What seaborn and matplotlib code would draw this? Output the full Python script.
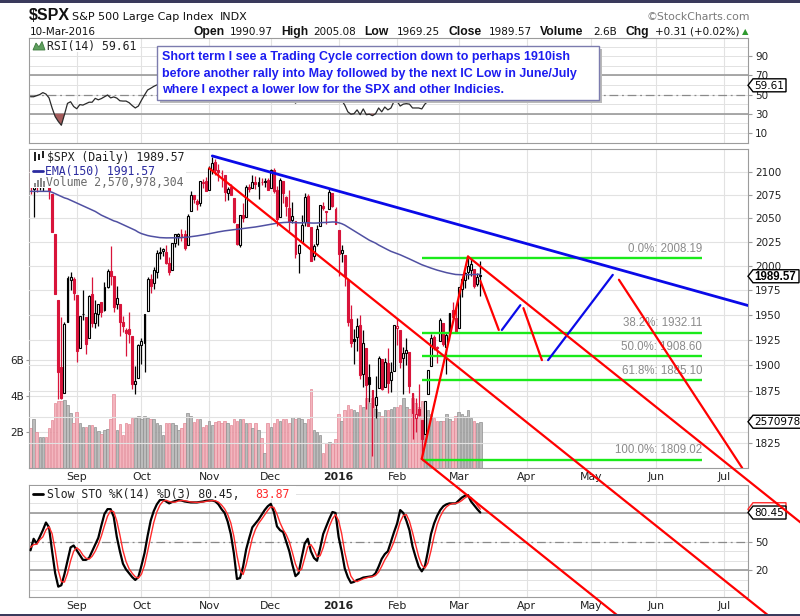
import numpy as np
import pandas as pd
import matplotlib
matplotlib.use("Agg")
import matplotlib.pyplot as plt
import seaborn as sns
from matplotlib.patches import Rectangle, Polygon
from matplotlib.lines import Line2D
from matplotlib.ticker import FixedLocator, FixedFormatter, NullLocator

# ---------------------------------------------------------------- data
HOLIDAYS = ["2015-09-07", "2015-11-26", "2015-12-25", "2016-01-01", "2016-01-18",
            "2016-02-15", "2016-03-25", "2016-05-30", "2016-07-04"]
FIRST_DAY = "2015-08-11"
PRIOR_CLOSE = 2104.18

opens = [
    2102.66, 2081.10, 2086.19, 2083.15, 2089.70, 2101.99, 2095.69, 2076.61, 2034.08, 1965.15, 1898.08, 1872.75, 1942.77, 1986.06, 1986.73,
    1970.09, 1916.52, 1950.79, 1947.76, 1927.30, 1971.45, 1941.59, 1951.45, 1963.06, 1955.10, 1978.02, 1995.33, 1989.66, 1960.84, 1961.39, 1943.24, 1934.81, 1935.93, 1929.18, 1881.90, 1887.14,
    1919.65, 1921.77, 1954.33, 1986.63, 1982.34, 1994.01, 2013.73, 2015.65, 2015.00, 2003.66, 1996.47, 2024.37, 2031.73, 2033.13, 2033.47, 2021.88, 2058.19, 2075.08, 2068.75, 2066.48, 2088.35, 2090.00,
    2080.76, 2102.63, 2110.60, 2101.68, 2098.60, 2096.56, 2077.19, 2083.41, 2072.29, 2044.64, 2022.08, 2053.67, 2051.99, 2083.70, 2082.82, 2089.41, 2084.42, 2089.30, 2088.82, 2090.95,
    2082.93, 2101.71, 2080.71, 2051.24, 2090.42, 2073.39, 2061.17, 2047.93, 2047.27, 2013.37, 2025.55, 2046.50, 2073.76, 2040.81, 2010.27, 2023.15, 2042.20, 2063.52, 2057.77, 2060.54, 2077.34, 2060.59,
    2038.20, 2013.78, 2011.71, 1985.32, 1945.97, 1926.12, 1927.83, 1940.34, 1891.68, 1916.68, 1888.66, 1876.18, 1861.46, 1877.40, 1906.28, 1878.79, 1902.52, 1885.22, 1894.00,
    1936.94, 1935.26, 1907.07, 1911.67, 1913.07, 1873.25, 1848.46, 1857.10, 1847.00, 1833.40, 1871.44, 1898.80, 1927.57, 1916.74, 1924.44, 1942.38, 1917.56, 1931.87, 1954.95, 1947.13,
    1937.09, 1976.60, 1985.60, 1994.01, 1996.11, 1996.88, 1981.44, 1990.97]
highs = [
    2102.66, 2089.06, 2092.93, 2092.45, 2102.87, 2103.47, 2096.17, 2076.61, 2034.08, 1965.15, 1948.04, 1943.09, 1989.60, 1993.48, 1988.87,
    1970.09, 1948.91, 1975.01, 1947.76, 1970.42, 1988.63, 1965.29, 1961.05, 1963.06, 1983.19, 1997.26, 2020.86, 1989.66, 1979.64, 1961.39, 1949.52, 1937.17, 1952.89, 1929.18, 1899.48, 1920.53,
    1927.21, 1951.36, 1989.17, 1991.62, 1999.31, 2016.50, 2020.13, 2018.66, 2022.34, 2009.56, 2024.15, 2033.54, 2034.45, 2039.12, 2037.97, 2055.20, 2079.74, 2075.14, 2070.37, 2090.35, 2092.52, 2094.32,
    2106.20, 2116.48, 2114.59, 2108.78, 2101.91, 2096.56, 2083.67, 2086.94, 2072.29, 2044.64, 2053.22, 2066.69, 2085.31, 2086.74, 2097.06, 2095.61, 2094.12, 2093.00, 2093.29, 2093.81,
    2103.37, 2104.27, 2085.00, 2093.84, 2090.42, 2073.85, 2080.33, 2067.65, 2047.27, 2022.92, 2053.87, 2076.72, 2076.37, 2040.81, 2022.90, 2042.74, 2064.73, 2067.36, 2057.77, 2081.56, 2077.34, 2062.54,
    2038.20, 2021.94, 2011.71, 1985.32, 1960.40, 1935.65, 1947.38, 1950.33, 1934.47, 1916.68, 1901.44, 1876.18, 1889.85, 1908.85, 1906.28, 1906.73, 1916.99, 1902.96, 1940.24,
    1947.20, 1935.26, 1918.01, 1927.35, 1913.07, 1873.25, 1868.25, 1881.60, 1847.00, 1864.78, 1895.77, 1930.68, 1930.00, 1918.78, 1946.70, 1942.38, 1932.08, 1951.83, 1962.96, 1958.27,
    1978.35, 1986.51, 1993.69, 2009.13, 2008.16, 1996.88, 1992.69, 2005.08]
lows = [
    2076.49, 2052.09, 2078.26, 2080.61, 2079.30, 2094.14, 2070.53, 2035.66, 1970.89, 1867.01, 1867.08, 1872.75, 1942.77, 1975.19, 1965.36,
    1903.07, 1916.52, 1944.72, 1911.21, 1927.30, 1937.88, 1937.19, 1939.19, 1948.27, 1954.30, 1977.93, 1980.48, 1953.45, 1955.80, 1929.22, 1932.57, 1908.92, 1921.50, 1876.92, 1871.91, 1887.14,
    1900.70, 1893.70, 1954.33, 1971.99, 1976.44, 1987.53, 2007.61, 2010.55, 2001.78, 1990.73, 1996.47, 2020.46, 2022.31, 2026.61, 2017.22, 2021.88, 2058.19, 2066.53, 2058.84, 2063.11, 2082.63, 2079.34,
    2080.76, 2097.51, 2096.98, 2090.41, 2083.74, 2068.24, 2069.91, 2074.85, 2045.66, 2022.02, 2019.94, 2045.90, 2051.99, 2078.76, 2082.82, 2081.39, 2070.29, 2086.30, 2084.13, 2080.41,
    2082.93, 2077.11, 2042.35, 2051.24, 2066.78, 2052.32, 2036.53, 2045.67, 2008.80, 1993.26, 2025.55, 2042.43, 2041.66, 2005.33, 2005.93, 2020.49, 2042.20, 2058.73, 2044.20, 2060.54, 2061.97, 2043.62,
    1989.68, 2004.17, 1979.05, 1938.83, 1918.46, 1901.10, 1914.35, 1886.41, 1878.93, 1857.83, 1864.60, 1812.29, 1848.98, 1877.40, 1875.97, 1878.79, 1872.70, 1873.65, 1894.00,
    1920.03, 1897.29, 1872.23, 1900.52, 1872.65, 1828.46, 1834.94, 1850.32, 1810.10, 1833.40, 1871.44, 1898.80, 1915.09, 1902.17, 1924.44, 1919.44, 1891.00, 1925.41, 1945.78, 1931.81,
    1937.09, 1968.80, 1977.37, 1986.77, 1989.44, 1977.43, 1979.84, 1969.25]
closes = [
    2084.07, 2086.05, 2083.39, 2091.54, 2102.44, 2096.92, 2079.61, 2035.73, 1970.89, 1893.21, 1867.61, 1940.51, 1987.66, 1988.87, 1972.18,
    1913.85, 1948.86, 1951.13, 1921.22, 1969.41, 1942.04, 1952.29, 1961.05, 1953.03, 1978.09, 1995.31, 1990.20, 1958.03, 1966.97, 1942.74, 1938.76, 1932.24, 1931.34, 1881.77, 1884.09, 1920.03,
    1923.82, 1951.36, 1987.05, 1979.92, 1995.83, 2013.43, 2014.89, 2017.46, 2003.69, 1994.24, 2023.86, 2033.11, 2033.66, 2030.77, 2018.94, 2052.51, 2075.15, 2071.18, 2065.89, 2090.35, 2089.41, 2079.36,
    2104.05, 2109.79, 2102.31, 2099.93, 2099.20, 2078.58, 2081.72, 2075.00, 2045.97, 2023.04, 2053.19, 2050.44, 2083.58, 2081.24, 2089.17, 2086.59, 2089.14, 2088.87, 2090.11, 2080.41,
    2102.63, 2079.51, 2049.62, 2091.69, 2077.07, 2063.59, 2047.62, 2052.23, 2012.37, 2021.94, 2043.41, 2073.07, 2041.89, 2005.55, 2021.15, 2038.97, 2064.29, 2060.99, 2056.50, 2078.36, 2063.36, 2043.94,
    2012.66, 2016.71, 1990.26, 1943.09, 1922.03, 1923.67, 1938.68, 1890.28, 1921.84, 1880.33, 1881.33, 1859.33, 1868.99, 1906.90, 1877.08, 1903.63, 1882.95, 1893.36, 1940.24,
    1939.38, 1903.03, 1912.53, 1915.45, 1880.05, 1853.44, 1852.21, 1851.86, 1829.08, 1864.78, 1895.58, 1926.82, 1917.83, 1917.78, 1945.50, 1921.27, 1929.80, 1951.70, 1948.05, 1932.23,
    1978.35, 1986.45, 1993.40, 1999.99, 2001.76, 1979.26, 1989.26, 1989.57]
volume_b = [
    2.2, 2.7, 2.0, 1.75, 1.7, 1.75, 2.2, 2.65, 3.6, 3.7, 3.7, 3.8, 3.5, 3.05, 2.5,
    3.1, 2.5, 2.3, 2.3, 2.4, 2.4, 2.3, 2.05, 1.9, 2.1, 2.15, 2.7, 4.1, 2.1, 2.45, 1.85, 2.5, 2.45, 2.8, 2.8, 2.9,
    2.7, 2.9, 2.8, 2.7, 2.7, 2.5, 2.4, 1.85, 2.5, 2.5, 2.5, 2.4, 2.1, 2.2, 2.5, 3.05, 2.9, 2.55, 2.7, 2.7, 2.3, 2.4,
    2.6, 2.4, 2.55, 2.6, 2.5, 2.6, 2.5, 2.4, 2.7, 2.6, 2.7, 2.7, 2.5, 2.5, 2.2, 2.5, 2.1, 1.65, 0.85, 2.5,
    2.3, 2.5, 2.75, 2.6, 2.7, 2.75, 2.5, 2.85, 2.7, 2.8, 2.7, 2.5, 2.75, 4.4, 2.1, 2.0, 1.85, 0.85, 1.4, 1.45, 1.35, 1.6,
    3.0, 2.6, 3.2, 3.5, 3.3, 3.2, 3.1, 3.5, 3.4, 3.9, 3.6, 3.9, 3.3, 3.1, 2.9, 3.2, 3.2, 3.3, 3.4,
    3.4, 3.5, 3.9, 3.4, 3.3, 3.9, 3.6, 3.4, 3.7, 3.1, 3.2, 3.0, 2.8, 2.6, 2.6, 2.6, 3.0, 2.7, 2.6, 2.9,
    3.1, 3.0, 2.9, 3.2, 2.8, 2.6, 2.5, 2.57]
ema150 = [
    2079.0, 2079.0, 2079.0, 2079.0, 2079.0, 2079.0, 2079.0, 2078.0, 2076.5, 2075.0, 2073.5, 2072.0, 2071.0, 2069.5, 2068.0,
    2066.5, 2065.0, 2063.5, 2062.0, 2060.5, 2059.0, 2057.5, 2055.5, 2053.5, 2052.0, 2050.5, 2049.0, 2047.5, 2046.5, 2045.0, 2043.5, 2042.0, 2040.5, 2039.0, 2037.5, 2035.5,
    2034.0, 2033.0, 2032.0, 2031.3, 2030.8, 2030.3, 2029.8, 2029.6, 2029.5, 2029.5, 2029.5, 2029.5, 2029.6, 2029.8, 2030.0, 2030.3, 2030.7, 2031.1, 2031.6, 2032.1, 2032.6, 2033.2,
    2033.8, 2034.5, 2035.2, 2035.8, 2036.4, 2036.9, 2037.3, 2037.7, 2038.1, 2038.4, 2038.8, 2039.2, 2039.7, 2040.1, 2040.5, 2041.0, 2041.5, 2042.1, 2042.7, 2043.3,
    2043.9, 2044.4, 2045.0, 2045.4, 2045.7, 2045.9, 2046.0, 2045.8, 2045.5, 2045.4, 2045.4, 2045.6, 2045.5, 2045.2, 2045.1, 2045.2, 2045.5, 2045.7, 2045.8, 2046.1, 2046.3, 2046.2,
    2045.5, 2044.5, 2043.0, 2041.0, 2039.0, 2037.0, 2035.0, 2033.0, 2031.0, 2029.0, 2027.0, 2025.5, 2024.0, 2022.0, 2020.3, 2018.6, 2017.0, 2015.4, 2014.2,
    2013.0, 2011.8, 2010.4, 2009.0, 2007.5, 2006.0, 2004.5, 2003.0, 2001.5, 2000.3, 1999.2, 1998.0, 1996.9, 1995.9, 1995.0, 1994.1, 1993.3, 1992.6, 1992.0, 1991.4,
    1991.2, 1991.1, 1991.1, 1991.2, 1991.3, 1991.3, 1991.4, 1991.57]
rsi14 = [
    47.7, 47.7, 48.8, 50.0, 52.0, 50.5, 46.5, 36.0, 27.0, 22.0, 18.0, 29.0, 40.8, 42.5, 37.5,
    35.2, 39.5, 39.0, 40.5, 42.0, 42.0, 46.0, 44.5, 45.8, 47.7, 49.5, 46.5, 47.5, 46.3, 43.5, 43.2, 43.2, 41.5, 38.5, 36.0, 38.0,
    44.0, 49.5, 54.7, 56.5, 58.5, 60.0, 61.0, 64.0, 64.5, 65.0, 61.0, 58.0, 63.0, 65.0, 65.0, 64.0, 61.0, 66.0, 70.0, 69.0, 67.0, 71.0,
    73, 74, 71, 70, 70, 62, 63, 60, 51, 46, 53, 52, 59, 58, 60, 59, 60, 60, 60, 57,
    62, 55, 47, 58, 54, 51, 47, 48, 41, 44, 49, 55, 48, 42, 46, 50, 55, 54, 53, 57, 54, 49,
    43, 44, 39, 32, 29.5, 30, 34, 29, 35, 29, 29.5, 28, 30, 36, 32, 37, 34, 36, 43,
    43, 38, 40, 40.5, 40, 36, 36, 36, 35, 40, 43, 49, 48, 48, 53, 49, 51, 55, 54.5, 52,
    60, 61, 63, 64, 64.5, 58, 60, 59.61]
sto_k = [
    41, 53, 48, 55, 62, 70, 65, 40, 17, 3, 4.5, 16, 30, 44, 46,
    41, 36, 31, 31, 33, 40, 47, 54, 67, 79, 84, 84, 76, 55, 40, 27, 21, 17, 13, 10, 13,
    25, 38, 56, 72, 82, 89, 93.5, 94, 92, 90, 91.5, 92.5, 93.5, 93, 92, 91.5, 91, 91, 91, 91.5, 92, 92.8,
    93, 93, 92, 89, 84, 80, 71, 58, 38, 11, 12, 24, 42, 54, 65, 69, 73, 78, 83, 87,
    89.5, 81, 66, 62, 60, 50, 40, 26, 14, 17, 33, 48, 53, 40, 33, 30, 43, 58, 66, 74, 81, 80,
    55, 40, 22, 13, 7, 8, 10, 11, 12.5, 13, 13.4, 14, 17, 24, 32, 37, 40, 50, 60,
    69, 83, 80, 72, 62, 45, 34, 24, 19, 24, 40, 58, 69, 77, 83, 87, 89, 90, 90, 90,
    93, 96, 98, 98.6, 92, 88, 84, 80.45]
sto_d = [
    44, 47, 47.3, 52, 55, 62.3, 65.7, 58.3, 40.7, 20, 8.2, 7.8, 16.8, 30, 40,
    43.7, 41, 36, 32.7, 31.7, 34.7, 40, 47, 56, 66.7, 76.7, 82.3, 81.3, 71.7, 57, 40.7, 29.3, 21.7, 17, 13.3, 12,
    16, 25.3, 39.7, 55.3, 70, 81, 88.2, 92.2, 93.2, 92, 91.2, 91.3, 92.5, 93, 92.8, 92.2, 91.5, 91.2, 91, 91.2, 91.5, 92.1,
    92.6, 92.9, 92.7, 91.3, 88.3, 84.3, 78.3, 69.7, 55.7, 35.7, 20.3, 15.7, 26, 40, 53.7, 62.7, 69, 73.3, 78, 82.7,
    86.5, 85.8, 78.8, 69.7, 62.7, 57.3, 50, 38.7, 26.7, 19, 21.3, 32.7, 44.7, 47, 42, 34.3, 35.3, 43.7, 55.7, 66, 73.7, 78.3,
    72, 58.3, 39, 25, 14, 9.3, 8.3, 9.7, 11.2, 12.2, 13, 13.5, 14.8, 18.3, 24.3, 31, 36.3, 42.3, 50,
    59.7, 70.7, 77.3, 78.3, 71.3, 59.7, 47, 34.3, 25.7, 22.3, 27.7, 40.7, 55.7, 68, 76.3, 82.3, 86.3, 88.7, 89.7, 90,
    91, 93, 95.7, 97.5, 96.2, 92.9, 88, 83.87]

PRICE_TICKS = [1825, 1850, 1875, 1900, 1925, 1950, 1975, 2000, 2025, 2050, 2075, 2100]
PRICE_TICK_LABELS = ["1825", "", "1875", "1900", "1925", "1950", "1975", "2000", "2025", "2050", "2075", "2100"]
RSI_TICKS = [10, 30, 50, 70, 90]
STO_TICKS = [20, 50, 80]
STO_TICK_LABELS = ["20", "50", ""]
VOL_TICKS = [2, 4, 6]
VOL_LABELS = ["2B", "4B", "6B"]
MONTH_DATES = ["2015-09-01", "2015-10-01", "2015-11-02", "2015-12-01", "2016-01-04", "2016-02-01",
               "2016-03-01", "2016-04-01", "2016-05-02", "2016-06-01", "2016-07-01"]
MONTH_LABELS = ["Sep", "Oct", "Nov", "Dec", "2016", "Feb", "Mar", "Apr", "May", "Jun", "Jul"]

FIB_START, FIB_END = "2016-02-11", "2016-06-22"
FIB_PRICES = [2008.19, 1932.11, 1908.60, 1885.10, 1809.02]
FIB_LABELS = ["0.0%: 2008.19", "38.2%: 1932.11", "50.0%: 1908.60", "61.8%: 1885.10", "100.0%: 1809.02"]

TREND_BLUE = [("2015-11-03", 2117.5), ("2016-07-15", 1958.7)]
CHANNEL_LINES = [[("2015-11-02", 2104.0), ("2016-08-08", 1646.8)],
                 [("2016-02-11", 1810.0), ("2016-06-10", 1628.1)],
                 [("2016-03-04", 2010.0), ("2016-08-08", 1751.3)]]
RALLY_LINE = [("2016-02-11", 1810.0), ("2016-03-04", 2010.0)]
PROJ_RED = [[("2016-03-10", 1985.0), ("2016-03-18", 1935.0)],
            [("2016-03-31", 1957.0), ("2016-04-08", 1905.0)],
            [("2016-05-13", 1986.0), ("2016-07-12", 1801.6)]]
PROJ_BLUE = [[("2016-03-21", 1935.0), ("2016-03-30", 1960.0)],
             [("2016-04-12", 1905.0), ("2016-05-11", 1991.0)]]

NOTE_LINES = ["Short term I see a Trading Cycle correction down to perhaps 1910ish",
              "before another rally into May followed by the next IC Low in June/July",
              "where I expect a lower low for the SPX and other Indicies."]
HEADER_LABELS = ["Open", "High", "Low", "Close", "Volume", "Chg"]
HEADER_VALUES = ["1990.97", "2005.08", "1969.25", "1989.57", "2.6B", "+0.31 (+0.02%)"]

# ---------------------------------------------------------------- setup
n = len(closes)
for arr in (opens, highs, lows, volume_b, ema150, rsi14, sto_k, sto_d):
    assert len(arr) == n, len(arr)

sns.set_style("white")
plt.rcParams['font.family'] = ['DejaVu Sans']
plt.rcParams['axes.edgecolor'] = '#9c9c9c'
plt.rcParams['axes.linewidth'] = 0.8

cal = pd.bdate_range(FIRST_DAY, "2016-08-31", freq="C", holidays=HOLIDAYS)
cal_pos = {d.strftime("%Y-%m-%d"): i for i, d in enumerate(cal)}
def xi(d):
    return cal_pos[d]

xs = np.array([cal_pos[d.strftime("%Y-%m-%d")] for d in cal[:n]])
o, h, l, c = map(np.array, (opens, highs, lows, closes))
vol = np.array(volume_b)
rsi = np.array(rsi14)
prev = np.concatenate([[PRIOR_CLOSE], c[:-1]])
down = c < prev

W, H = 800, 616
fig = plt.figure(figsize=(W / 100, H / 100), dpi=100)
fig.patch.set_facecolor('white')

def frect(lft, top, rgt, bot):
    return [lft / W, 1 - bot / H, (rgt - lft) / W, (bot - top) / H]

def px(x, y):
    return (x / W, 1 - y / H)

def ftext(x, y, s, **kw):
    return fig.text(x / W, 1 - y / H, s, **kw)

def fbox(x0, y0, x1, y1, z=11, color='white'):
    fig.add_artist(Rectangle(px(x0, y1), (x1 - x0) / W, (y1 - y0) / H, transform=fig.transFigure,
                             facecolor=color, edgecolor='none', zorder=z))

XLIM = (-0.5, 232.9)
GRID = '#e2e2e2'
RED = '#d8143a'
LBL = '#222222'
TICKC = '#9c9c9c'
MONO = 'DejaVu Sans Mono'
month_pos = [xi(d) for d in MONTH_DATES]

ax_r = fig.add_axes(frect(29, 38, 748, 143))
ax_v = fig.add_axes(frect(29, 149, 748, 468))
ax_p = fig.add_axes(frect(29, 149, 748, 468), sharex=ax_v)
ax_s = fig.add_axes(frect(29, 485, 748, 597))
ax_p.patch.set_visible(False)

# ---------------------------------------------------------------- volume
ax_v.set_facecolor('white')
for p in month_pos:
    ax_v.axvline(p, color=GRID, lw=0.8, zorder=0)
for v in VOL_TICKS:
    ax_v.axhline(v, color=GRID, lw=0.8, zorder=0)
vface = np.where(down, '#f3b5be', '#bcbcbc')
vedge = np.where(down, '#e38896', '#8f8f8f')
ax_v.bar(xs, vol, width=0.82, color=vface, edgecolor=vedge, linewidth=0.5, zorder=2)
ax_v.set_ylim(0, (468 - 149) / 18.0)
ax_v.set_yticks(VOL_TICKS)
ax_v.set_yticklabels(VOL_LABELS)
ax_v.tick_params(axis='y', left=True, length=2, pad=1.5, labelsize=7.5, color=TICKC, labelcolor=LBL)
ax_v.set_xticks(month_pos)
ax_v.set_xticklabels(MONTH_LABELS)
ax_v.tick_params(axis='x', length=0, pad=3.2, labelsize=7.8, labelcolor=LBL)
for lab in ax_v.get_xticklabels():
    if lab.get_text() == '2016':
        lab.set_fontweight('bold')

# ---------------------------------------------------------------- price
ax_p.set_yscale('log')
for t in PRICE_TICKS:
    ax_p.axhline(t, color=GRID, lw=0.8, zorder=0)
ccol = np.where(down, RED, 'black')
ax_p.vlines(xs, l, h, colors=ccol, lw=0.9, zorder=3)
hollow = c > o
face = np.where(hollow, 'white', ccol)
body_bottom = np.minimum(o, c)
body_h = np.maximum(np.abs(c - o), 0.5)
ax_p.bar(xs, body_h, bottom=body_bottom, width=0.62, color=face, edgecolor=ccol,
         linewidth=0.8, zorder=4)
sns.lineplot(x=xs, y=np.array(ema150), ax=ax_p, color='#5050a2', linewidth=1.1,
             estimator=None, zorder=5)

for lvl, lab in zip(FIB_PRICES, FIB_LABELS):
    ax_p.hlines(lvl, xi(FIB_START), xi(FIB_END), color='#1aea1a', lw=1.7, zorder=7)
    ax_p.annotate(lab, xy=(xi(FIB_END), lvl), xytext=(0, 2.5), textcoords='offset points',
                  ha='right', va='bottom', color='#8a8a8a', fontsize=8.3,
                  family='Liberation Sans', zorder=7)

def seg_pts(pts):
    return [xi(d) for d, _ in pts], [v for _, v in pts]

bx, by = seg_pts(TREND_BLUE)
ax_p.plot(bx, by, color='#0a0ae8', lw=2.0, zorder=8)
rx, ry = seg_pts(RALLY_LINE)
ax_p.plot(rx, ry, color='#ff0000', lw=1.6, zorder=8)
for seg in PROJ_RED:
    sx, sy = seg_pts(seg)
    ax_p.plot(sx, sy, color='#ff0000', lw=1.6, zorder=8)
for seg in PROJ_BLUE:
    sx, sy = seg_pts(seg)
    ax_p.plot(sx, sy, color='#0a0ae8', lw=1.6, zorder=8)

ax_p.set_xlim(*XLIM)
ax_p.set_ylim(1801.5, 2125.1)
ax_p.yaxis.tick_right()
ax_p.yaxis.set_major_locator(FixedLocator(PRICE_TICKS))
ax_p.yaxis.set_major_formatter(FixedFormatter(PRICE_TICK_LABELS))
ax_p.yaxis.set_minor_locator(NullLocator())
ax_p.tick_params(axis='y', which='major', right=True, left=False, labelright=True, labelleft=False,
                 length=3, pad=2, labelsize=7.5, color=TICKC, labelcolor=LBL)
ax_p.tick_params(axis='x', bottom=False, labelbottom=False)
ax_p.set_xlabel('')
ax_p.set_ylabel('')
for sp in ax_p.spines.values():
    sp.set_visible(False)

# ---------------------------------------------------------------- RSI
for v in range(0, 101, 10):
    ax_r.axhline(v, color=GRID, lw=0.7, zorder=0)
for p in month_pos:
    ax_r.axvline(p, color=GRID, lw=0.8, zorder=0)
ax_r.axhline(70, color='#9a9a9a', lw=1.2, zorder=1)
ax_r.axhline(30, color='#9a9a9a', lw=1.2, zorder=1)
ax_r.axhline(50, color='#8a8a8a', lw=0.9, ls=(0, (7, 3, 1.5, 3)), zorder=1)
ax_r.fill_between(xs, rsi, 30, where=rsi < 30, interpolate=True, color='#a65c5c', lw=0, zorder=2)
ax_r.fill_between(xs, rsi, 70, where=rsi > 70, interpolate=True, color='#6a9f6a', lw=0, zorder=2)
sns.lineplot(x=xs, y=rsi, ax=ax_r, color='#2a2a2a', linewidth=0.9, estimator=None, zorder=3)
ax_r.set_xlim(*XLIM)
ax_r.set_ylim(-0.5, 108.9)
ax_r.yaxis.tick_right()
ax_r.set_yticks(RSI_TICKS)
ax_r.tick_params(axis='y', right=True, left=False, length=3, pad=2, labelsize=7.5,
                 color=TICKC, labelcolor=LBL)
ax_r.tick_params(axis='x', bottom=False, labelbottom=False)
ax_r.set_xlabel('')
ax_r.set_ylabel('')

# ---------------------------------------------------------------- STO
for v in range(0, 101, 10):
    ax_s.axhline(v, color=GRID, lw=0.7, zorder=0)
for p in month_pos:
    ax_s.axvline(p, color=GRID, lw=0.8, zorder=0)
ax_s.axhline(80, color='#9a9a9a', lw=1.2, zorder=1)
ax_s.axhline(20, color='#9a9a9a', lw=1.2, zorder=1)
ax_s.axhline(50, color='#8a8a8a', lw=0.9, ls=(0, (7, 3, 1.5, 3)), zorder=1)
sns.lineplot(x=xs, y=np.array(sto_k), ax=ax_s, color='black', linewidth=1.6, estimator=None, zorder=3)
sns.lineplot(x=xs, y=np.array(sto_d), ax=ax_s, color='#ff2a2a', linewidth=1.0, estimator=None, zorder=4)
ax_s.set_xlim(*XLIM)
ax_s.set_ylim(-7.8, 109.2)
ax_s.yaxis.tick_right()
ax_s.set_yticks(STO_TICKS)
ax_s.set_yticklabels(STO_TICK_LABELS)
ax_s.tick_params(axis='y', right=True, left=False, length=3, pad=2, labelsize=7.5,
                 color=TICKC, labelcolor=LBL)
ax_s.set_xticks(month_pos)
ax_s.set_xticklabels(MONTH_LABELS)
ax_s.tick_params(axis='x', length=0, pad=3.2, labelsize=7.8, labelcolor=LBL)
for lab in ax_s.get_xticklabels():
    if lab.get_text() == '2016':
        lab.set_fontweight('bold')
ax_s.set_xlabel('')
ax_s.set_ylabel('')

# ---------------------------------------------------------------- overlay channel lines (span panels)
for seg in CHANNEL_LINES:
    sx, sy = seg_pts(seg)
    ln = Line2D(sx, sy, transform=ax_p.transData, color='#ff0000', lw=1.6, zorder=40)
    fig.add_artist(ln)

# ---------------------------------------------------------------- value tags on right axis
def tag(ax, value, text, edge='black', color='black', w=38, bold=False, fs=7.5, fam='DejaVu Sans', z=30):
    yd = ax.transData.transform((0, value))[1]
    yt = H - yd
    x0 = 748
    hh = 6.5
    pts = [(x0, yt), (x0 + 5, yt - hh), (x0 + 5 + w, yt - hh), (x0 + 5 + w, yt + hh), (x0 + 5, yt + hh)]
    poly = Polygon([px(a, b) for a, b in pts], closed=True, transform=fig.transFigure,
                   facecolor='white', edgecolor=edge, lw=1.0, zorder=z)
    fig.add_artist(poly)
    if text:
        ftext(x0 + 6, yt + 0.5, text, ha='left', va='center', fontsize=fs, color=color,
              fontweight='bold' if bold else 'normal', family=fam, zorder=z + 1)

tag(ax_p, closes[-1], "1989.57", w=46, bold=True, fs=8.3, fam='Liberation Sans')
tag(ax_v, volume_b[-1], "2570978", w=80)
tag(ax_r, rsi14[-1], "59.61", w=33)
tag(ax_s, sto_d[-1], "", edge='#ff2a2a', w=33, z=30)
tag(ax_s, sto_k[-1], "80.45", w=33, z=32)

# ---------------------------------------------------------------- legends (opaque backgrounds)
fbox(30, 39, 140, 52)
ftext(47, 46.5, "RSI(14) 59.61", family=MONO, fontsize=8.3, va='center', color='#222', zorder=12)
fig.add_artist(Polygon([px(33, 50), px(36, 43), px(39, 47), px(42, 41.5), px(45, 50)], closed=True,
                       transform=fig.transFigure, facecolor='#5f9f5f', edgecolor='#3d7a3d', lw=0.6, zorder=12))

fbox(30, 150, 186, 188)
ftext(47, 157, "$SPX (Daily) 1989.57", family=MONO, fontsize=8.3, va='center', color='#222', zorder=12)
for (a, b, t, bt) in [(34, 36, 152, 161), (38, 40, 154, 160), (42, 44, 151, 158)]:
    fig.add_artist(Rectangle(px(a, bt), (b - a) / W, (bt - t) / H, transform=fig.transFigure,
                             facecolor='#222', edgecolor='none', zorder=12))
fig.add_artist(Line2D([33 / W, 43 / W], [1 - 171 / H, 1 - 171 / H], transform=fig.transFigure,
                      color='#2b2ba0', lw=2.0, zorder=12))
ftext(45, 171, "EMA(150) 1991.57", family=MONO, fontsize=8.3, va='center', color='#2b2ba0', zorder=12)
for (a, b, t) in [(34, 36, 183), (37, 39, 180), (40, 42, 178), (43, 45, 181)]:
    fig.add_artist(Rectangle(px(a, 187), (b - a) / W, (187 - t) / H, transform=fig.transFigure,
                             facecolor='#8a8a8a', edgecolor='none', zorder=12))
ftext(46, 182.5, "Volume 2,570,978,304", family=MONO, fontsize=8.3, va='center', color='#6a6a6a', zorder=12)

fbox(30, 486, 296, 499)
fig.add_artist(Line2D([33 / W, 43 / W], [1 - 494 / H, 1 - 494 / H], transform=fig.transFigure,
                      color='black', lw=2.0, zorder=12))
ftext(47, 494, "Slow STO %K(14) %D(3) 80.45,", family=MONO, fontsize=8.3, va='center', color='#222', zorder=12)
ftext(255, 494, "83.87", family=MONO, fontsize=8.3, va='center', color='#ff2a2a', zorder=12)

# ---------------------------------------------------------------- annotation box
bl, bt_, br, bb = 157, 46, 599, 100
fig.add_artist(Rectangle(px(bl + 3, bb + 3), (br - bl) / W, (bb - bt_) / H, transform=fig.transFigure,
                         facecolor='#b9b9b9', edgecolor='none', zorder=25))
fig.add_artist(Rectangle(px(bl, bb), (br - bl) / W, (bb - bt_) / H, transform=fig.transFigure,
                         facecolor='white', edgecolor='#7c7cae', lw=1.0, zorder=26))
for k, line in enumerate(NOTE_LINES):
    ftext(162, 57 + 16.5 * k, line, family='Liberation Sans', fontweight='bold', fontsize=9,
          color='#1c1cf0', va='center', ha='left', zorder=27)

# ---------------------------------------------------------------- header
fig.add_artist(Rectangle((0, 1 - 3 / H), 1, 3 / H, transform=fig.transFigure,
                         facecolor='#3a3a5c', edgecolor='none', zorder=50))
fig.add_artist(Rectangle((0, 0), 1, 2 / H, transform=fig.transFigure,
                         facecolor='#3a3a5c', edgecolor='none', zorder=50))
ftext(29, 20.5, "$SPX", family='Liberation Sans', fontweight='bold', fontsize=11.5, va='baseline', color='#111')
ftext(72, 20.5, "S&P 500 Large Cap Index", fontsize=8, va='baseline', color='#111')
ftext(220, 20.5, "INDX", fontsize=8, va='baseline', color='#111')
ftext(750, 20.5, "\u00a9StockCharts.com", fontsize=7.8, va='baseline', ha='right', color='#7a7a7a')
ftext(30, 35, "10-Mar-2016", fontsize=7.5, va='baseline', color='#111')
LABEL_X = [193, 281, 364, 448, 540, 626]
VALUE_X = [230, 313, 397, 489, 593, 655]
for lab, lx, val, vx in zip(HEADER_LABELS, LABEL_X, HEADER_VALUES, VALUE_X):
    ftext(lx, 35, lab, family='Liberation Sans', fontweight='bold', fontsize=8.7, va='baseline', color='#111')
    ftext(vx, 35, val, fontsize=7.5, va='baseline', color='#111')
ftext(742, 34.5, "\u25b2", fontsize=6, va='baseline', color='#2e9a2e')

fig.savefig("out.png", dpi=100, facecolor='white')
